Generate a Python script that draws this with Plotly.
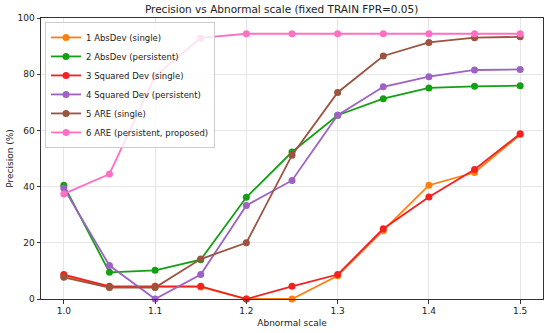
import plotly.graph_objects as go

scales = [1.0, 1.05, 1.1, 1.15, 1.2, 1.25, 1.3, 1.35, 1.4, 1.45, 1.5]
names = ["1 AbsDev (single)", "2 AbsDev (persistent)", "3 Squared Dev (single)",
         "4 Squared Dev (persistent)", "5 ARE (single)", "6 ARE (persistent, proposed)"]
absdev_single = [8.3, 4.3, 4.3, 4.3, 0.0, 0.0, 8.3, 24.3, 40.5, 45.0, 58.5]
absdev_persist = [40.5, 9.5, 10.2, 14.0, 36.2, 52.3, 65.4, 71.3, 75.1, 75.7, 75.9]
sq_single = [8.7, 4.5, 4.5, 4.5, 0.0, 4.5, 8.7, 25.0, 36.3, 46.1, 58.8]
sq_persist = [39.4, 11.9, 0.0, 8.7, 33.3, 42.2, 65.4, 75.5, 79.1, 81.5, 81.7]
are_single = [7.7, 4.1, 4.1, 14.2, 20.0, 51.2, 73.5, 86.5, 91.3, 93.0, 93.3]
are_persist = [37.4, 44.5, 79.3, 92.9, 94.4, 94.4, 94.4, 94.4, 94.4, 94.4, 94.4]
series = [absdev_single, absdev_persist, sq_single, sq_persist, are_single, are_persist]
colors = ["#ff7f0e", "#13a013", "#f52020", "#9d62c4", "#9a5440", "#ff70c4"]
x_ticks = [1.0, 1.1, 1.2, 1.3, 1.4, 1.5]
y_ticks = [0, 20, 40, 60, 80, 100]

fig = go.Figure()
for name, vals, col in zip(names, series, colors):
    fig.add_trace(go.Scatter(
        x=scales, y=vals, name=name, mode="lines+markers",
        line=dict(color=col, width=1.8),
        marker=dict(color=col, size=7, symbol="circle"),
        cliponaxis=False,
    ))

font = "DejaVu Sans, sans-serif"
fig.update_layout(
    width=550, height=333,
    margin=dict(l=41, r=6, t=18, b=31),
    paper_bgcolor="white", plot_bgcolor="white",
    font=dict(family=font, size=9, color="#222"),
    title=dict(text="Precision vs Abnormal scale (fixed TRAIN FPR=0.05)",
               x=0.512, xanchor="center", y=0.973, yanchor="middle",
               font=dict(size=10.5, color="#222")),
    showlegend=True,
    legend=dict(x=0.008, y=0.986, xanchor="left", yanchor="top",
                bgcolor="rgba(255,255,255,0.8)", bordercolor="#cccccc", borderwidth=1,
                font=dict(size=8.5, color="#222"), tracegroupgap=0,
                itemwidth=30),
    xaxis=dict(range=[0.975, 1.525], tickvals=x_ticks,
               ticktext=[f"{v:.1f}" for v in x_ticks],
               showgrid=True, gridcolor="#e6e6e6", gridwidth=1,
               showline=True, linecolor="#333", linewidth=1, mirror=True,
               ticks="outside", ticklen=3.5, tickcolor="#333",
               zeroline=False,
               title=dict(text="Abnormal scale", font=dict(size=9), standoff=4)),
    yaxis=dict(range=[0, 100], tickvals=y_ticks,
               showgrid=True, gridcolor="#e6e6e6", gridwidth=1,
               showline=True, linecolor="#333", linewidth=1, mirror=True,
               ticks="outside", ticklen=3.5, tickcolor="#333",
               zeroline=False,
               title=dict(text="Precision (%)", font=dict(size=9), standoff=2)),
)
fig.write_html("out.html",
               config={"displayModeBar": False},
               post_script="document.body.style.margin='0';document.body.style.overflow='hidden';")
